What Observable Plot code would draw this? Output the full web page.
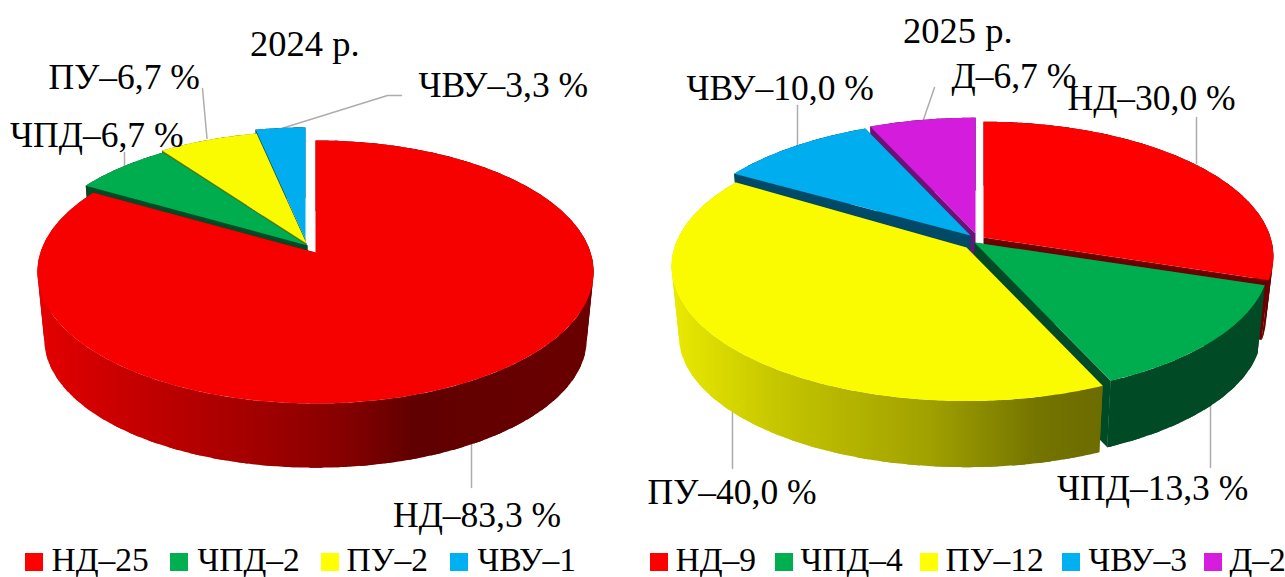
<!DOCTYPE html>
<html>
<head>
<meta charset="utf-8">
<script src="https://cdn.jsdelivr.net/npm/d3@7"></script>
<script src="https://cdn.jsdelivr.net/npm/@observablehq/plot@0.6"></script>
<style>
html,body{margin:0;padding:0;background:#fff}
svg{display:block}
</style>
</head>
<body>
<div id="chart"></div>
<script>
// ---- data ----
const titles = ["2024 р.", "2025 р."];
const categories2024 = ["НД", "ЧПД", "ПУ", "ЧВУ"];
const counts2024 = [25, 2, 2, 1];
const shares2024 = [83.3, 6.7, 6.7, 3.3];
const categories2025 = ["НД", "ЧПД", "ПУ", "ЧВУ", "Д"];
const counts2025 = [9, 4, 12, 3, 2];
const shares2025 = [30.0, 13.3, 40.0, 10.0, 6.7];

// ---- styling ----
const topColor = {"НД": "#ff0000", "ЧПД": "#00ad4e", "ПУ": "#fbfb00", "ЧВУ": "#00aeef", "Д": "#d41cdc"};
const faceColor = {"НД": "#6a0000", "ЧПД": "#004a25", "ПУ": "#757500", "ЧВУ": "#004a68", "Д": "#6b1178"};
const legendColor = {"НД": "#ff0000", "ЧПД": "#00b050", "ПУ": "#ffff00", "ЧВУ": "#00b0f0", "Д": "#d61cdc"};
const font = "'Liberation Serif','Times New Roman',serif";
const fontSize = 35.5;
const leaderColor = "#adadad";

// ---- layout of the two pies (perspective disc and exploded apexes) ----
const deg = Math.PI / 180;
const pies = [
  {id: "a", categories: categories2024, counts: counts2024,
   rx: 275, ry: 128.6, k: 0.148, drop: 68, lower: 0.975, dropOf: {}, rxOf: {}, endNudge: {},
   topOf: {"НД": "#f60000"},
   apex: {"НД": [315, 252], "ЧПД": [307, 245], "ПУ": [306, 243], "ЧВУ": [305, 239]},
   order: ["ЧВУ", "ПУ", "ЧПД", "НД"]},
  {id: "b", categories: categories2025, counts: counts2025,
   rx: 292, ry: 132, k: 0.14, drop: 70, lower: 0.975, dropOf: {"НД": 61}, rxOf: {"НД": 287}, endNudge: {"ПУ": 2 * deg},
   topOf: {},
   apex: {"НД": [983, 237], "ЧПД": [974, 242], "ПУ": [966, 247], "ЧВУ": [970, 235], "Д": [975, 233]},
   order: ["Д", "ЧВУ", "НД", "ЧПД", "ПУ"]}
];
const rimShade = {
  "a:НД": {x1: 40, x2: 590, stops: [[0, "#e40000"], [0.15, "#c80000"], [0.38, "#a40000"], [0.55, "#860000"], [0.68, "#600000"], [1, "#6a0000"]]},
  "b:ПУ": {x1: 676, x2: 1100, stops: [[0, "#e8e800"], [0.25, "#c4c400"], [0.6, "#a0a000"], [0.85, "#747400"], [1, "#6c6c00"]]}
};

const labels = [
  {t: 0, i: 0, x: 392.5, y: 526}, {t: 0, i: 1, x: 9.5, y: 146}, {t: 0, i: 2, x: 48, y: 88}, {t: 0, i: 3, x: 418, y: 96},
  {t: 1, i: 0, x: 1067, y: 109}, {t: 1, i: 1, x: 1056.5, y: 499}, {t: 1, i: 2, x: 647, y: 503}, {t: 1, i: 3, x: 686, y: 99}, {t: 1, i: 4, x: 951, y: 87}
];
const shareOf = [shares2024, shares2025];
const catOf = [categories2024, categories2025];
const countOf = [counts2024, counts2025];
const pct = v => v.toFixed(1).replace(".", ",") + " %";
const sliceLabels = labels.map(d => ({x: d.x, y: d.y, text: `${catOf[d.t][d.i]}–${pct(shareOf[d.t][d.i])}`}));
const titleLabels = [{x: 249.5, y: 55, text: titles[0]}, {x: 902.5, y: 42, text: titles[1]}];

const leaders = [
  [[124, 152], [124, 168]],
  [[202, 88], [206.5, 138]],
  [[281, 128], [387, 95], [401, 95]],
  [[471, 443], [471, 487]],
  [[797, 105], [797, 145]],
  [[934, 87], [923, 119]],
  [[1196, 117], [1196, 163]],
  [[1210, 402], [1210, 467]],
  [[732, 408], [732, 468]]
];

const legendLayout = [
  {t: 0, sq: [25, 170, 321, 450], tx: [51, 197, 346, 477]},
  {t: 1, sq: [650, 775, 920, 1062, 1204], tx: [675, 800, 945, 1088, 1229]}
];
const legendRects = [], legendTexts = [];
for (const l of legendLayout) catOf[l.t].forEach((c, i) => {
  legendRects.push({x1: l.sq[i], x2: l.sq[i] + 18, y1: 553, y2: 571, fill: legendColor[c]});
  legendTexts.push({x: l.tx[i], y: 570, text: `${c}–${countOf[l.t][i]}`});
});

// ---- geometry from values ----
function project(p, apex, theta, low, drop, rx) {
  const X = Math.sin(theta), Y = -Math.cos(theta), s = 1 / (1 - p.k * Y), f = low ? p.lower : 1;
  return {x: apex[0] + rx * f * X * s, y: apex[1] + (low ? drop : 0) + p.ry * f * Y * s};
}
function arc(p, apex, a0, a1, low, drop, rx) {
  const n = Math.max(2, Math.ceil((a1 - a0) / 0.01)), out = [];
  for (let j = 0; j <= n; ++j) out.push(project(p, apex, a0 + (a1 - a0) * j / n, low, drop, rx));
  return out;
}
const polygons = [];
const gradients = [];
for (const p of pies) {
  const total = d3.sum(p.counts);
  let acc = 0;
  const spans = {};
  p.categories.forEach((c, i) => {
    spans[c] = [acc / total * 2 * Math.PI, (acc + p.counts[i]) / total * 2 * Math.PI + (p.endNudge[c] ?? 0)];
    acc += p.counts[i];
  });
  for (const c of p.order) {
    const [a0, a1] = spans[c], ap = p.apex[c], drop = p.dropOf[c] ?? p.drop, rx = p.rxOf[c] ?? p.rx;
    const tip = {x: ap[0], y: ap[1]}, tipLow = {x: ap[0], y: ap[1] + drop};
    // two cut faces
    for (const a of [a0, a1]) {
      polygons.push({pts: [tip, project(p, ap, a, false, drop, rx), project(p, ap, a, true, drop, rx), tipLow], fill: faceColor[c]});
    }
    // rim, in short overlapping pieces so that the front and back parts do not cancel
    const key = `${p.id}:${c}`;
    let rimFill = faceColor[c];
    if (rimShade[key]) { rimFill = `url(#rim-${p.id})`; gradients.push({id: `rim-${p.id}`, ...rimShade[key]}); }
    const step = 0.08;
    for (let a = a0; a < a1; a += step) {
      const b = Math.min(a1, a + step * 1.5);
      polygons.push({pts: [...arc(p, ap, a, b, false, drop, rx), ...arc(p, ap, a, b, true, drop, rx).reverse()], fill: rimFill});
    }
    // top
    polygons.push({pts: [tip, ...arc(p, ap, a0, a1, false, drop, rx)], fill: p.topOf[c] ?? topColor[c]});
  }
}

function defsMark() {
  const defs = d3.create("svg:defs");
  for (const g of gradients) {
    const lg = defs.append("linearGradient").attr("id", g.id).attr("gradientUnits", "userSpaceOnUse")
      .attr("x1", g.x1).attr("x2", g.x2).attr("y1", 0).attr("y2", 0);
    for (const [o, col] of g.stops) lg.append("stop").attr("offset", o).attr("stop-color", col);
  }
  return defs.node();
}

const textOpts = {x: "x", y: "y", text: "text", textAnchor: "start", lineAnchor: "bottom", fontSize, fontFamily: font, fill: "#000", stroke: "none"};
const chart = Plot.plot({
  width: 1285, height: 577,
  margin: 0, marginTop: 0, marginRight: 0, marginBottom: 0, marginLeft: 0,
  style: {background: "#fff", fontFamily: font},
  x: {type: "linear", domain: [0, 1285], range: [0, 1285], axis: null},
  y: {type: "linear", domain: [0, 577], range: [0, 577], axis: null},
  marks: [
    defsMark,
    ...leaders.map(l => Plot.line(l.map(([x, y]) => ({x, y})), {x: "x", y: "y", stroke: leaderColor, strokeWidth: 1.5})),
    ...polygons.map(d => Plot.line(d.pts, {x: "x", y: "y", fill: d.fill, stroke: "none", curve: "linear"})),
    Plot.rect(legendRects, {x1: "x1", x2: "x2", y1: "y1", y2: "y2", fill: "fill"}),
    Plot.text(legendTexts, {...textOpts, fontSize: 33.5}),
    Plot.text(sliceLabels, textOpts),
    Plot.text(titleLabels, {...textOpts, fontSize: 36.5})
  ]
});
document.getElementById("chart").append(chart);
</script>
</body>
</html>
